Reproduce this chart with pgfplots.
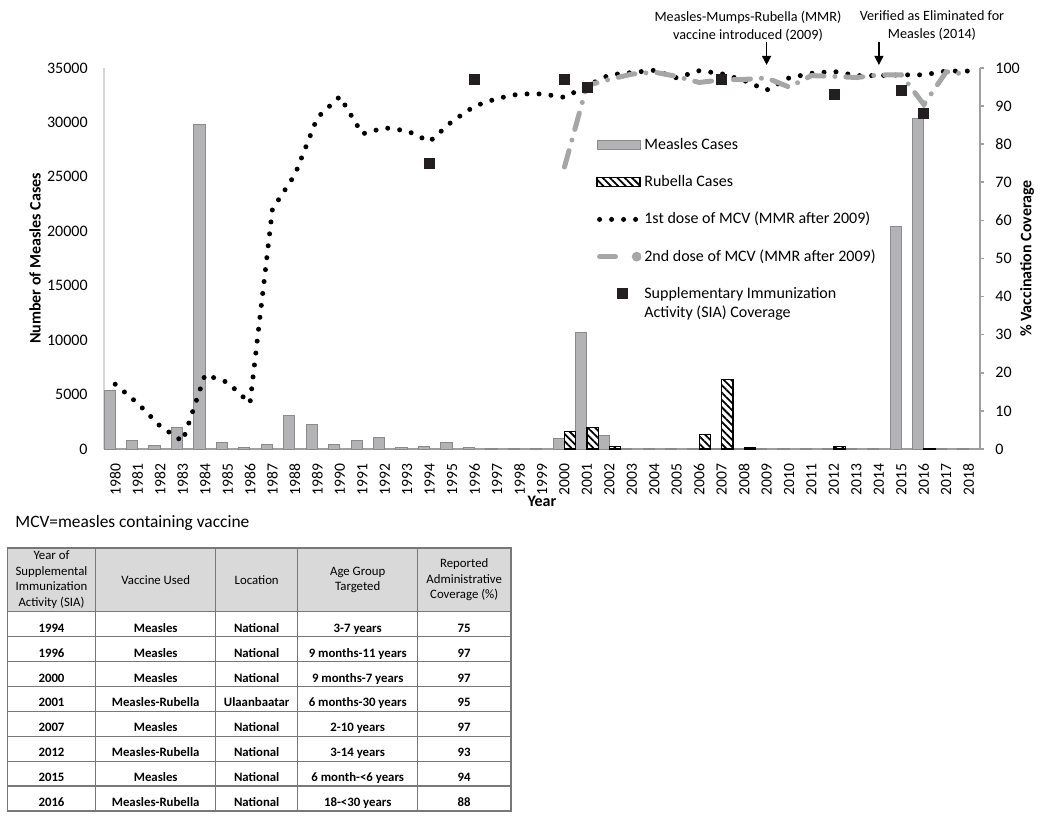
\documentclass[border=0pt]{standalone}
\usepackage{pgfplots}
\pgfplotsset{compat=1.18}
\usepackage{pgfplotstable}
\usepackage{fontspec}
\setmainfont{Carlito}
\usetikzlibrary{patterns.meta,arrows.meta}

\definecolor{measfill}{RGB}{179,179,182}
\definecolor{measdraw}{RGB}{138,138,141}
\definecolor{dosetwo}{RGB}{166,166,166}
\definecolor{axgray}{RGB}{160,160,160}
\definecolor{axlight}{RGB}{215,215,215}
\definecolor{siablack}{RGB}{35,31,32}
\definecolor{hdrgray}{RGB}{217,217,217}
\definecolor{tblline}{RGB}{120,120,120}

\newcommand\tickfont{\fontsize{8}{9.6}\selectfont}

\pgfplotstableread{
year measles
1980 5400
1981 760
1982 280
1983 1990
1984 29800
1985 580
1986 180
1987 430
1988 3120
1989 2230
1990 370
1991 735
1992 1100
1993 150
1994 250
1995 600
1996 180
1997 60
1998 60
1999 40
2000 1010
2001 10720
2002 1280
2003 20
2004 60
2005 20
2006 10
2007 20
2008 60
2009 20
2010 20
2011 10
2012 20
2013 10
2014 10
2015 20400
2016 30350
2017 30
2018 20
}\measlestable

\pgfplotstableread{
year rubella
2000 1600
2001 1960
2002 200
2006 1300
2007 6420
2008 150
2012 250
2016 60
}\rubellatable

\pgfplotstableread{
year first
1980 17
1981 12
1982 6
1983 2
1984 19.5
1985 17.5
1986 12
1987 63
1988 72
1989 87
1990 92.5
1991 82.7
1992 84.3
1993 83.5
1994 80.7
1995 86
1996 90
1997 92
1998 93.2
1999 93.2
2000 92.3
2001 95.3
2002 98.2
2003 98.8
2004 99.4
2005 97.4
2006 99.3
2007 98.5
2008 96.7
2009 94.2
2010 97.4
2011 98.6
2012 99.1
2013 98
2014 98
2015 98.2
2016 98.2
2017 99.2
2018 99.2
}\firsttable

\pgfplotstableread{
year second
2000 74
2001 95.4
2002 97
2003 98.4
2004 98.9
2005 97.8
2006 96.2
2007 96.9
2008 97
2009 97.4
2010 95
2011 98
2012 97.8
2013 97.5
2014 98.2
2015 98.2
2016 90.4
2017 99
2018 98.3
}\secondtable

\pgfplotstableread{
year sia
1994 75
1996 97
2000 97
2001 95
2007 97
2012 93
2015 94
2016 88
}\siatable

\tikzset{
  doseonestyle/.style={black, line width=2.5pt, line cap=round, dash pattern=on 0pt off 6pt},
  dosetwostyle/.style={dosetwo, line width=2.5pt, line cap=round, dash pattern=on 8.5pt off 5.5pt on 0pt off 5.5pt},
}

\begin{document}
\begin{tikzpicture}[x=0.5pt,y=-0.5pt]
\useasboundingbox (0,0) rectangle (1050,818);

% ---------- left axis: cases ----------
\begin{axis}[
  at={(52pt,-224.5pt)}, anchor=south west,
  scale only axis, width=438pt, height=190.5pt,
  xmin=1979.5, xmax=2018.5,
  ymin=0, ymax=35000,
  axis x line*=bottom, axis y line*=left,
  x axis line style={draw=axgray, line width=0.8pt, -},
  y axis line style={draw=axlight, line width=0.6pt, -},
  xtick={1980,...,2018},
  ytick={0,5000,...,35000},
  xtick style={draw=none}, ytick style={draw=none},
  scaled y ticks=false,
  /pgf/number format/assume math mode=true,
  /pgf/number format/1000 sep={},
  xticklabel style={rotate=90, anchor=east, font=\fontsize{7.8}{9}\selectfont, inner sep=0pt},
  xticklabel shift=3pt,
  yticklabel style={font=\tickfont, inner sep=0pt, xshift=-8pt},
  every axis y label/.style={at={(rel axis cs:0,0.5)}, anchor=center, xshift=-34.5pt, rotate=90},
  every axis x label/.style={at={(rel axis cs:0.5,0)}, anchor=center, yshift=-26pt},
  ylabel={\fontsize{8}{9.6}\selectfont\bfseries Number of Measles Cases},
  xlabel={\fontsize{8}{9.6}\selectfont\bfseries Year},
  ybar, bar width=0.5,
]
\addplot[fill=measfill, draw=measdraw, line width=0.5pt, bar shift=-0.25]
  table[x=year, y=measles] {\measlestable};
\addplot[draw=black, line width=0.6pt, bar shift=0.25,
  pattern={Lines[angle=-45,distance=2.6pt,line width=0.9pt]}]
  table[x=year, y=rubella] {\rubellatable};
\end{axis}

% ---------- right axis: coverage ----------
\begin{axis}[
  at={(52pt,-224.5pt)}, anchor=south west,
  scale only axis, width=438pt, height=190.5pt,
  xmin=1979.5, xmax=2018.5,
  ymin=0, ymax=100,
  axis y line*=right, axis x line=none,
  y axis line style={draw=axgray, line width=0.8pt, -},
  ytick={0,10,...,100},
  ytick style={draw=axgray, line width=0.8pt},
  tick align=outside, major tick length=2.2pt,
  /pgf/number format/assume math mode=true,
  yticklabel style={font=\tickfont, inner sep=0pt, xshift=5.3pt},
  every axis y label/.style={at={(rel axis cs:1,0.5)}, anchor=center, xshift=23.5pt, rotate=90},
  ylabel={\fontsize{8}{9.6}\selectfont\bfseries \% Vaccination Coverage},
  clip=false,
  legend cell align=left,
  legend style={at={(0.5622,0.8178)}, anchor=north west,
    draw=none, fill=none, inner sep=0pt, outer sep=0pt,
    font=\fontsize{8}{9.7}\selectfont,
    row sep=11pt, column sep=1.5pt,
    nodes={inner sep=0pt, text height=6pt, text depth=1.6pt},
    cells={anchor=west}},
]
\addlegendimage{legend image code/.code={
  \draw[fill=measfill, draw=measdraw, line width=0.5pt] (0pt,-2.3pt) rectangle (21.5pt,2.3pt);}}
\addlegendentry{Measles Cases}
\addlegendimage{legend image code/.code={
  \draw[draw=black, line width=0.6pt, pattern={Lines[angle=-45,distance=2.6pt,line width=0.9pt]}] (0pt,-2.3pt) rectangle (21.5pt,2.3pt);}}
\addlegendentry{Rubella Cases}

\addplot[doseonestyle,
  legend image code/.code={\path[draw=none] (0pt,0pt) -- (21.8pt,0pt); \draw[doseonestyle] (1.25pt,0pt) -- (19.75pt,0pt);}]
  table[x=year, y=first] {\firsttable};
\addlegendentry{1st dose of MCV (MMR after 2009)}

\addplot[dosetwostyle,
  legend image code/.code={\path[draw=none] (0pt,0pt) -- (21.8pt,0pt);
    \draw[dosetwo, line width=2.5pt, line cap=round, solid] (1.25pt,0pt) -- (9.2pt,0pt);
    \fill[dosetwo] (19.8pt,0pt) circle (1.1pt);}]
  table[x=year, y=second] {\secondtable};
\addlegendentry{2nd dose of MCV (MMR after 2009)}

\addplot[only marks, mark=square*, mark size=2.5pt, color=siablack,
  legend image code/.code={\path[draw=none] (0pt,0pt) -- (21.8pt,0pt);
    \draw[only marks, mark=square*, mark size=2.5pt, color=siablack] plot coordinates {(12.8pt,0pt)};}]
  table[x=year, y=sia] {\siatable};
\addlegendentry{\begin{tabular}[t]{@{}l@{}}Supplementary Immunization\\Activity (SIA) Coverage\end{tabular}}

\draw[-{Triangle[length=4.5pt,width=4.5pt]}, line width=0.7pt, black]
  (axis cs:2009,106.7) -- (axis cs:2009,100.8);
\draw[-{Triangle[length=4.5pt,width=4.5pt]}, line width=0.7pt, black]
  (axis cs:2014,106.7) -- (axis cs:2014,100.8);
\end{axis}

% ---------- annotations ----------
\node[align=center, font=\fontsize{7.1}{9}\selectfont, inner sep=0pt] at (748,26)
  {Measles-Mumps-Rubella (MMR)\\vaccine introduced (2009)};
\node[align=center, font=\fontsize{7.1}{9}\selectfont, inner sep=0pt] at (932,26)
  {Verified as Eliminated for\\Measles (2014)};

\node[anchor=west, font=\fontsize{8.7}{10}\selectfont, inner sep=0pt] at (15,522.7)
  {MCV=measles containing vaccine};

% ---------- table ----------
\fill[hdrgray] (7.3,547.7) rectangle (510.7,611.7);
\foreach \k in {0,...,7}
  \draw[tblline, line width=0.7pt] (7.3,{611.7+24.925*\k}) -- (510.7,{611.7+24.925*\k});
\foreach \x in {95.7,215.7,297.7,417.7}
  \draw[tblline, line width=0.7pt] (\x,547.7) -- (\x,811.1);
\draw[tblline, line width=0.8pt] (7.3,547.7) rectangle (510.7,811.1);

\begin{scope}[every node/.style={align=center, font=\fontsize{6.4}{7.75}\selectfont, inner sep=0pt}]
\node at (51.5,579.7) {Year of\\Supplemental\\Immunization\\Activity (SIA)};
\node at (155.7,579.7) {Vaccine Used};
\node at (256.7,579.7) {Location};
\node at (357.7,579.7) {Age Group\\Targeted};
\node at (464.2,579.7) {Reported\\Administrative\\Coverage (\%)};
\end{scope}

\begin{scope}[every node/.style={anchor=base, font=\fontsize{6.4}{7.75}\selectfont\bfseries, inner sep=0pt}]
\foreach \yr/\vac/\loc/\age/\cov [count=\k from 0] in {
  1994/Measles/National/3-7 years/75,
  1996/Measles/National/9 months-11 years/97,
  2000/Measles/National/9 months-7 years/97,
  2001/Measles-Rubella/Ulaanbaatar/6 months-30 years/95,
  2007/Measles/National/2-10 years/97,
  2012/Measles-Rubella/National/3-14 years/93,
  2015/Measles/National/6 month-<6 years/94,
  2016/Measles-Rubella/National/18-<30 years/88}{
  \node at (51.5,{611.7+24.925*\k+20.5}) {\yr};
  \node at (155.7,{611.7+24.925*\k+20.5}) {\vac};
  \node at (256.7,{611.7+24.925*\k+20.5}) {\loc};
  \node at (357.7,{611.7+24.925*\k+20.5}) {\age};
  \node at (464.2,{611.7+24.925*\k+20.5}) {\cov};
}
\end{scope}
\end{tikzpicture}
\end{document}
